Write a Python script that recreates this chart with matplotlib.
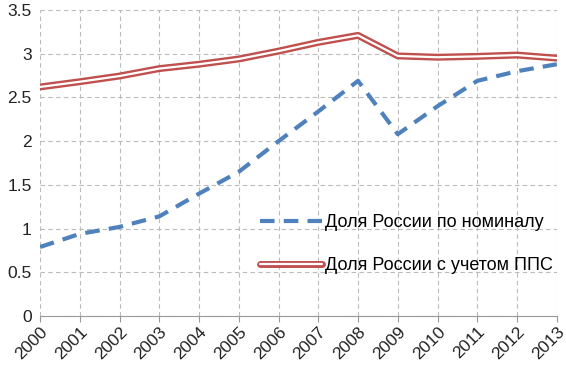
import numpy as np
import matplotlib.pyplot as plt
import matplotlib.patheffects as pe

plt.rcParams['font.family'] = ['Liberation Sans', 'DejaVu Sans']

years = list(range(2000, 2014))
nominal = [0.79, 0.94, 1.02, 1.14, 1.40, 1.65, 2.00, 2.34, 2.69, 2.08, 2.40, 2.69, 2.80, 2.88]
ppp = [2.62, 2.68, 2.745, 2.83, 2.88, 2.94, 3.03, 3.13, 3.21, 2.975, 2.96, 2.97, 2.985, 2.95]
labels = ['Доля России по номиналу', 'Доля России с учетом ППС']

blue = '#4f81bd'
red = '#c0504d'

fig = plt.figure(figsize=(5.66, 3.71), dpi=100)
ax = fig.add_axes([0.0707, 0.148, 0.913, 0.825])

ax.plot(years, nominal, color=blue, lw=3, dashes=(3.5, 2.2), label=labels[0])
ax.plot(years, ppp, color='white', lw=1.6, label=labels[1], solid_capstyle='round',
        path_effects=[pe.Stroke(linewidth=5, foreground=red, capstyle='round'), pe.Normal()])

ax.set_xlim(2000, 2013)
ax.set_ylim(0, 3.5)
ax.set_xticks(years)
ax.set_xticklabels([str(y) for y in years], rotation=45, ha='right', rotation_mode='anchor')
ax.set_yticks(np.arange(0, 3.51, 0.5))
ax.set_yticklabels(['0', '0.5', '1', '1.5', '2', '2.5', '3', '3.5'])
ax.tick_params(axis='both', labelsize=12.5, colors='#222222')
ax.tick_params(axis='y', length=0, pad=6)
ax.tick_params(axis='x', length=4, color='#999999', pad=2)

ax.grid(True, color='#bbbbbb', linestyle=(0, (4, 3)), lw=0.8)
for s in ['left', 'top', 'right']:
    ax.spines[s].set_visible(False)
ax.spines['bottom'].set_color('#999999')

ax.legend(loc='center left', bbox_to_anchor=(0.395, 0.235), frameon=False, fontsize=13,
          handlelength=3.4, labelspacing=1.45, handletextpad=0.2)

plt.savefig('out.png', dpi=100)
